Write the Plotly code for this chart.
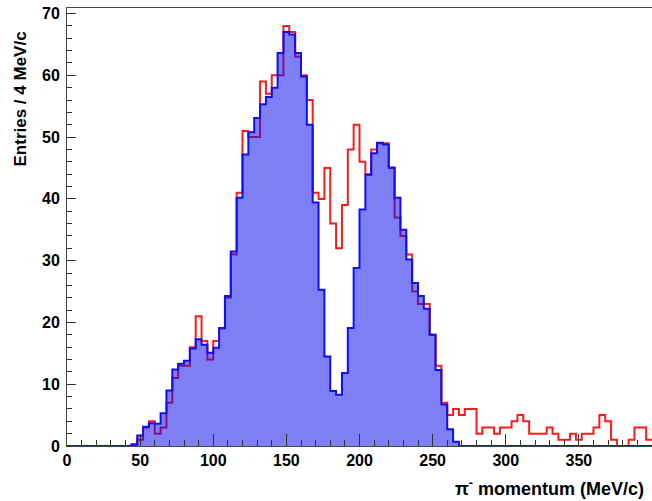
import plotly.graph_objects as go

# ---- data (4 MeV/c bins from 0 to 400 MeV/c) ----
bin_width = 4
x_min, x_max = 0, 400

# blue (filled) histogram, bins 0..99
blue_counts = [
    0, 0, 0, 0, 0, 0, 0, 0, 0, 0,            # 0-40
    0, 0.3, 1.7, 3.1, 3.7, 3.6, 5.3, 9.0, 12.4, 13.3,   # 40-80
    13.8, 15.8, 17.3, 16.4, 15.1, 15.9, 19.1, 24.3, 31.5, 40.2,  # 80-120
    47.2, 50.8, 53.1, 55.3, 56.5, 58.0, 63.6, 67.0, 66.6, 63.6,  # 120-160
    59.8, 52.0, 39.4, 25.3, 14.5, 8.9, 8.3, 11.8, 19.1, 28.8,    # 160-200
    38.3, 43.9, 47.4, 49.1, 48.8, 45.1, 40.2, 35.0, 30.2, 26.4,  # 200-240
    24.3, 22.2, 18.0, 12.3, 6.7, 2.7, 0.7, 0, 0, 0,              # 240-280
    0, 0, 0, 0, 0, 0, 0, 0, 0, 0,
    0, 0, 0, 0, 0, 0, 0, 0, 0, 0,
    0, 0, 0, 0, 0, 0, 0, 0, 0, 0,
]

# red (outline) histogram, bins 0..99
red_counts = [
    0, 0, 0, 0, 0, 0, 0, 0, 0, 0,
    0, 0, 1, 3, 4, 2, 3, 7, 11, 13,
    13, 16, 21, 17, 14, 17, 19, 24, 31, 41,
    51, 50, 50, 59, 57, 60, 60, 68, 67, 63,
    60, 56, 41, 40, 45, 36, 32, 39, 48, 52,
    46, 44, 48, 49, 49, 45, 37, 34, 31, 25,
    23, 23, 18, 13, 7, 5, 6, 5, 6, 6,
    2, 3, 3, 2, 3, 3, 4, 5, 4, 2,
    2, 2, 3, 2, 1, 1, 2, 1, 2, 2,
    3, 5, 4, 1, 0, 0, 1, 3, 3, 1,
]

x_tick_vals = [0, 50, 100, 150, 200, 250, 300, 350]
y_tick_vals = [0, 10, 20, 30, 40, 50, 60, 70]
x_title = "π<sup>-</sup> momentum (MeV/c)"
y_title = "Entries / 4 MeV/c"

# ---- build step outlines ----
n_bins = len(blue_counts)
edges = [x_min + i * bin_width for i in range(n_bins + 1)]
blue_y = list(blue_counts) + [blue_counts[-1]]
red_y = list(red_counts) + [red_counts[-1]]

W, H = 652, 501
ml, mr, mt, mb = 67, 0, 8, 55
y_max = 70.9

fig = go.Figure()
fig.add_trace(go.Scatter(
    x=edges, y=red_y, mode="lines", line=dict(shape="hv", color="#ff1a1a", width=2),
    hoverinfo="skip", showlegend=False))
fig.add_trace(go.Scatter(
    x=edges, y=blue_y, mode="lines", line=dict(shape="hv", color="#1010ee", width=2),
    fill="tozeroy", fillcolor="rgba(10,10,235,0.52)",
    hoverinfo="skip", showlegend=False))

tick_font = dict(family="Liberation Sans, Arial, sans-serif", size=16, color="black", weight="bold")

fig.update_layout(
    width=W, height=H,
    margin=dict(l=ml, r=mr, t=mt, b=mb),
    paper_bgcolor="white", plot_bgcolor="white",
    xaxis=dict(
        range=[x_min, x_max], tickvals=x_tick_vals, ticks="inside", ticklen=12,
        tickcolor="#333", tickwidth=1, showgrid=False, zeroline=False,
        showline=True, linecolor="#444", linewidth=1, mirror=True,
        tickfont=tick_font,
        minor=dict(ticks="inside", dtick=10, ticklen=6, tickcolor="#333", tickwidth=1, showgrid=False),
    ),
    yaxis=dict(
        range=[0, y_max], tickvals=y_tick_vals, ticks="inside", ticklen=9,
        tickcolor="#333", tickwidth=1, showgrid=False, zeroline=False,
        showline=True, linecolor="#444", linewidth=1, mirror=True,
        tickfont=tick_font, ticklabelstandoff=3,
        minor=dict(ticks="inside", dtick=2, ticklen=5, tickcolor="#333", tickwidth=1, showgrid=False),
    ),
)

pw = W - ml - mr
ph = H - mt - mb

# x title (right aligned at end of axis)
fig.add_annotation(
    text=x_title, xref="paper", yref="paper",
    x=(646 - ml) / pw, y=-(487 - (H - mb)) / ph,
    xanchor="right", yanchor="middle", showarrow=False,
    font=dict(family="Liberation Sans, Arial, sans-serif", size=18, color="black", weight="bold"))

# y title (rotated, top aligned)
fig.add_annotation(
    text=y_title, xref="paper", yref="paper",
    x=-(ml - 20) / pw, y=(H - mb - 30) / ph,
    xanchor="center", yanchor="top", textangle=-90, showarrow=False,
    font=dict(family="Liberation Sans, Arial, sans-serif", size=17, color="black", weight="bold"))

fig.write_html("out.html")
